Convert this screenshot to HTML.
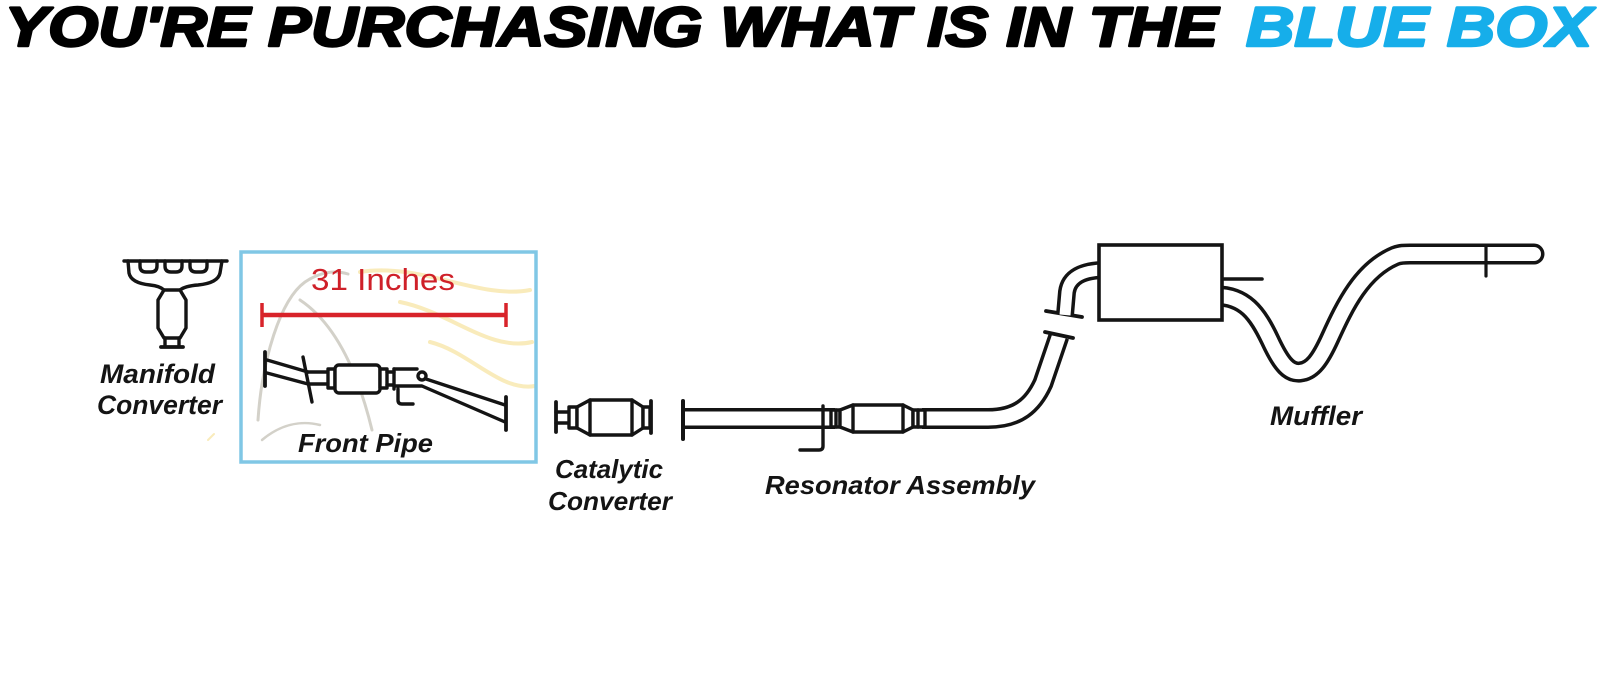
<!DOCTYPE html>
<html>
<head>
<meta charset="utf-8">
<style>
  html,body{margin:0;padding:0;background:#fff;}
  svg{display:block;}
  .lbl{font-family:"Liberation Sans",Arial,sans-serif;font-weight:bold;font-style:italic;fill:#141414;}
</style>
</head>
<body>
<svg width="1600" height="685" viewBox="0 0 1600 685" xmlns="http://www.w3.org/2000/svg">
  <rect width="1600" height="685" fill="#ffffff"/>

  <!-- Title -->
  <text x="5" y="46" font-family="Liberation Sans, Arial, sans-serif" font-weight="bold" font-style="italic" font-size="56" fill="#000" stroke="#000" stroke-width="2.5" stroke-linejoin="round" textLength="1213" lengthAdjust="spacingAndGlyphs">YOU'RE PURCHASING WHAT IS IN THE</text>
  <text x="1246" y="46" font-family="Liberation Sans, Arial, sans-serif" font-weight="bold" font-style="italic" font-size="56" fill="#16aeea" stroke="#16aeea" stroke-width="2.5" stroke-linejoin="round" textLength="346" lengthAdjust="spacingAndGlyphs">BLUE BOX</text>

  <!-- faint watermark -->
  <g fill="none" stroke-linecap="round" opacity="0.45">
    <path d="M258 420 C262 360 280 300 305 282 C320 272 335 270 348 274" stroke="#a09a88" stroke-width="3"/>
    <path d="M300 300 C330 320 355 360 372 430" stroke="#a09a88" stroke-width="3"/>
    <path d="M262 440 C280 425 300 420 320 425" stroke="#a09a88" stroke-width="2.5"/>
    <path d="M360 272 C420 262 480 300 530 290" stroke="#f2d46a" stroke-width="4"/>
    <path d="M400 302 C450 312 490 352 532 342" stroke="#f2d46a" stroke-width="4"/>
    <path d="M430 342 C470 352 500 392 535 386" stroke="#f2d46a" stroke-width="4"/>
    <path d="M208 440 L214 434" stroke="#f2d46a" stroke-width="2"/>
  </g>

  <!-- Blue box -->
  <rect x="241" y="252" width="295" height="210" fill="none" stroke="#80c7e5" stroke-width="3.5"/>

  <!-- 31 Inches -->
  <text x="311" y="290" font-family="Liberation Sans, Arial, sans-serif" font-size="31" fill="#cf2029" textLength="144" lengthAdjust="spacingAndGlyphs">31 Inches</text>
  <g stroke="#d8232a" fill="none">
    <path d="M262 315 H506" stroke-width="4.5"/>
    <path d="M262 303 V327 M506 303 V327" stroke-width="3.5"/>
  </g>

  <!-- Manifold converter drawing -->
  <g stroke="#141414" stroke-width="3.4" fill="none" stroke-linecap="round" stroke-linejoin="round">
    <path d="M124 261 H227"/>
    <path d="M140 261 v5 q0 6 6 6 h5 q6 0 6 -6 v-5"/>
    <path d="M165 261 v5 q0 6 6 6 h5 q6 0 6 -6 v-5"/>
    <path d="M190 261 v5 q0 6 6 6 h5 q6 0 6 -6 v-5"/>
    <path d="M128 261 L129 273 Q131 283 150 285 Q160 286 164 290"/>
    <path d="M222 261 L220 273 Q218 283 198 285 Q185 286 180 290"/>
    <path d="M164 290 H180 L186 300 V328 L180 338 H164 L158 328 V300 Z"/>
    <path d="M165 338 V346 M179 338 V346"/>
    <path d="M161 347 H183" stroke-width="3.8"/>
  </g>

  <!-- Front pipe drawing -->
  <g stroke="#141414" stroke-width="3.4" fill="none" stroke-linecap="round" stroke-linejoin="round">
    <path d="M265 352 V386" stroke-width="3.8"/>
    <path d="M267 360 L308 372"/>
    <path d="M267 373 L308 384"/>
    <path d="M308 372 H328 M308 384 H328"/>
    <rect x="328" y="369" width="7" height="19" fill="#fff"/>
    <rect x="335" y="365" width="45" height="28" rx="4" fill="#fff"/>
    <rect x="380" y="369" width="7" height="19" fill="#fff"/>
    <path d="M387 372 H394 M387 385 H394"/>
    <path d="M394 369 V389"/>
    <path d="M394 369 H417"/>
    <circle cx="422" cy="376" r="4" fill="#fff"/>
    <path d="M426 379 L505 405"/>
    <path d="M394 386 H422 L505 422"/>
    <path d="M506 397 V430" stroke-width="3.8"/>
    <path d="M398 389 V400 Q398 404 402 404 H413"/>
    <path d="M303 357 L312 402"/>
  </g>

  <!-- Catalytic converter drawing -->
  <g stroke="#141414" stroke-width="3.4" fill="none" stroke-linecap="round" stroke-linejoin="round">
    <path d="M556 402 V432" stroke-width="3.8"/>
    <path d="M556 412 H569 M556 423 H569"/>
    <rect x="569" y="407" width="8" height="21" fill="#fff"/>
    <path d="M577 407 L590 400 H632 L643 407 V428 L632 435 H590 L577 428 Z" fill="#fff"/>
    <path d="M590 400 V435 M632 400 V435"/>
    <rect x="643" y="407" width="7" height="21" fill="#fff"/>
    <path d="M651 401 V433" stroke-width="3.8"/>
  </g>

  <!-- Resonator pipes (double line via stroke layering) -->
  <g fill="none">
    <path d="M683 418.5 H835" stroke="#141414" stroke-width="21"/>
    <path d="M683 418.5 H835" stroke="#fff" stroke-width="14"/>
    <path d="M922 418.5 L988 418.5 C1018 418.5 1033 405 1043 383 L1059 336" stroke="#141414" stroke-width="21"/>
    <path d="M922 418.5 L988 418.5 C1018 418.5 1033 405 1043 383 L1059 336" stroke="#fff" stroke-width="14"/>
  </g>
  <g stroke="#141414" stroke-width="3.4" fill="none" stroke-linecap="round" stroke-linejoin="round">
    <path d="M683 401 V439" stroke-width="4"/>
    <path d="M823 406 V446 Q823 450 819 450 H800"/>
    <rect x="831" y="410" width="9" height="17" fill="#fff"/>
    <path d="M836 410 V427"/>
    <path d="M840 410 L853 405 H903 L913 410 V427 L903 432 H853 L840 427 Z" fill="#fff"/>
    <path d="M853 405 V432 M903 405 V432"/>
    <rect x="913" y="410" width="12" height="17" fill="#fff"/>
    <path d="M918 410 V427"/>
    <path d="M1045 332 L1073 338" stroke-width="3.8"/>
    <path d="M1046 311 L1082 317" stroke-width="3.8"/>
  </g>

  <!-- Muffler inlet pipe -->
  <g fill="none">
    <path d="M1065 315 L1067 292 Q1070 270 1106 270" stroke="#141414" stroke-width="18"/>
    <path d="M1065 315 L1067 292 Q1070 270 1106 270" stroke="#fff" stroke-width="11"/>
  </g>
  <!-- Outlet S-curve -->
  <g fill="none" stroke-linecap="round" stroke-linejoin="round">
    <path d="M1212 296 C1245 294 1258 315 1270 340 C1282 366 1290 373 1300 372 C1312 371 1320 360 1330 338 C1345 305 1362 270 1395 256 C1400 254 1405 254 1410 254 L1534 254" stroke="#141414" stroke-width="21"/>
    <path d="M1212 296 C1245 294 1258 315 1270 340 C1282 366 1290 373 1300 372 C1312 371 1320 360 1330 338 C1345 305 1362 270 1395 256 C1400 254 1405 254 1410 254 L1534 254" stroke="#fff" stroke-width="14"/>
  </g>
  <g stroke="#141414" stroke-width="3.6" fill="none" stroke-linecap="round">
    <rect x="1099" y="245" width="123" height="75" fill="#fff"/>
    <path d="M1224 279 H1262"/>
    <path d="M1486 247 V276" stroke-width="3.2"/>
  </g>

  <!-- Labels -->
  <text class="lbl" x="100" y="383" font-size="27" textLength="115" lengthAdjust="spacingAndGlyphs">Manifold</text>
  <text class="lbl" x="97" y="414" font-size="27" textLength="125" lengthAdjust="spacingAndGlyphs">Converter</text>
  <text class="lbl" x="298" y="452" font-size="26" textLength="135" lengthAdjust="spacingAndGlyphs">Front Pipe</text>
  <text class="lbl" x="555" y="478" font-size="26" textLength="108" lengthAdjust="spacingAndGlyphs">Catalytic</text>
  <text class="lbl" x="548" y="510" font-size="26" textLength="124" lengthAdjust="spacingAndGlyphs">Converter</text>
  <text class="lbl" x="765" y="494" font-size="26" textLength="270" lengthAdjust="spacingAndGlyphs">Resonator Assembly</text>
  <text class="lbl" x="1270" y="425" font-size="27" textLength="92" lengthAdjust="spacingAndGlyphs">Muffler</text>
</svg>
</body>
</html>
